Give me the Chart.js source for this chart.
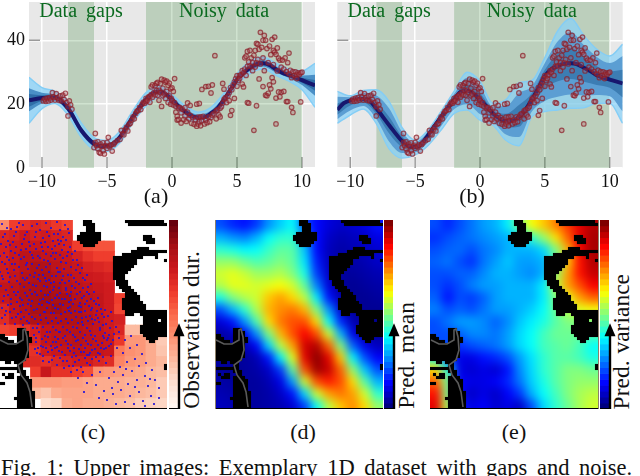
<!DOCTYPE html>
<html>
<head>
<meta charset="utf-8">
<script src="https://cdn.jsdelivr.net/npm/chart.js@4"></script>
<style>
  html, body { margin: 0; padding: 0; background: #fff; }
  body { width: 640px; height: 476px; overflow: hidden; position: relative; font-family: "Liberation Serif", serif; color: #111; }
  canvas { position: absolute; display: block; }
  .panel { position: absolute; top: 220px; width: 168px; height: 189px; overflow: hidden; }
  .cap { position: absolute; font-size: 22px; transform: translateX(-50%); white-space: nowrap; }
  .vlabel { position: absolute; bottom: 67px; font-size: 23.5px; line-height: 23px; writing-mode: vertical-rl; transform: rotate(180deg); white-space: nowrap; word-spacing: 1px; }
  #figcap { position: absolute; left: 1px; top: 455px; font-size: 22.5px; white-space: nowrap; word-spacing: 4px; }
</style>
</head>
<body>
<canvas id="lineA" width="320" height="192" style="left:0;top:0"></canvas>
<canvas id="lineB" width="320" height="192" style="left:320px;top:0"></canvas>
<div class="cap" style="left:156px;top:183px">(a)</div>
<div class="cap" style="left:472px;top:183px">(b)</div>
<div class="cap" style="left:93px;top:419px">(c)</div>
<div class="cap" style="left:303px;top:419px">(d)</div>
<div class="cap" style="left:514px;top:419px">(e)</div>
<div class="vlabel" style="left:180px">Observation dur.</div>
<div class="vlabel" style="left:395px">Pred. mean</div>
<div class="vlabel" style="left:610px">Pred. variance</div>
<div id="figcap">Fig. 1: Upper images: Exemplary 1D dataset with gaps and noise.</div>

<script>
const bandX = [-11,-10,-9,-8,-7,-6,-5,-4,-3,-2,-1,0,1,2,3,4,5,6,7,8,9,10,11];
const meanXA = [-11,-10,-9.5,-9,-8,-7,-6,-5.5,-5,-4.5,-4,-3,-2,-1.5,-1,-0.5,0,0.5,1,1.5,2,2.5,3,3.5,4,4.5,5,5.5,6,6.5,7,7.5,8,8.5,9,10,11];
const meanYA = [21.2,21.9,22,22,18.7,11.9,7.6,6.9,6.9,7.6,9.7,16,21.4,23.3,24,23.2,21.4,19.3,17.7,16.3,15.8,15.9,17.1,18.7,21.4,24.5,27.7,29.8,31.4,32.5,32.8,32.3,30.9,29.8,29.1,27.5,25.9];
const outerUpA = [28.4,25.2,24,21,14.2,9.5,8.6,11.6,18,23.6,25.8,23,19.5,17.5,19,23.5,29.5,33.4,34.8,32.8,31,30.5,32.8];
const outerLoA = [14,18.6,20.2,16.6,9.8,5.8,5.2,7.9,14.2,19.4,22.2,19.8,16,14.2,15.4,19.6,26,29.6,31,29,27.2,24.5,19];
const midUpA = [25,23.6,23,19.8,12.9,8.5,7.8,10.6,17,22.4,25,22.3,18.6,16.7,18,22.4,28.6,32.4,33.8,31.9,30,29,29.2];
const midLoA = [17.8,20.2,21,17.6,10.9,6.7,6,8.8,15,20.4,23,20.5,16.8,14.9,16.2,20.4,26.8,30.4,31.8,29.9,28.2,26,22.6];
const innerUpA = [23.2,22.8,22.6,19.2,12.4,8,7.3,10.1,16.5,21.9,24.5,21.9,18.2,16.3,17.5,21.9,28.2,31.9,33.3,31.4,29.6,28.3,27.6];
const innerLoA = [19.2,21,21.4,18.2,11.4,7.2,6.5,9.3,15.5,20.9,23.5,20.9,17.2,15.3,16.7,20.9,27.2,30.9,32.3,30.4,28.6,26.7,24.2];

const meanXB = [-11,-10.5,-10,-9,-8.5,-8,-7,-6,-5.5,-5,-4.5,-4,-3,-2,-1.5,-1,-0.5,0,0.5,1,1.5,2,2.5,3,3.5,4,4.5,5,5.5,6,6.5,7,7.5,8,8.5,9,10,11];
const meanYB = [18.2,20.3,21.2,21.6,21,18.7,13.4,8.4,6.9,6.6,7.6,10.3,16,21.4,23.8,24.2,23.4,21.4,19.3,17.1,15.6,14.7,14.7,16,18.2,21.4,25,28.8,30.9,32,32.7,32.8,32.5,31.4,30.4,29.1,27.7,26.5];
const outerUpB = [24,22.6,24.3,24.5,20.8,12.6,8.7,11.9,17.7,24,30,27.2,20.3,21.4,26.7,27.4,34.6,43,46.8,41.5,37.2,35.1,38.8];
const outerLoB = [14,16.6,18.5,14,6,3.1,4.1,7.1,11.9,17.1,18.2,15,13.4,8.7,7,16.1,17.7,18.2,18.7,18.9,20.3,20.3,14];
const midUpB = [22.3,22.2,23.5,22.8,18.6,11.3,8.1,11.4,17.2,23.2,28.3,25.5,19.3,19.4,23.5,25.6,32.9,39.7,42.6,38.5,34.8,32.9,35.1];
const midLoB = [15.3,18,19.4,15.4,8.2,4.7,4.9,8.1,13.1,18.4,20,16.9,14.5,10.5,9.7,17.7,21,22.3,23,22.7,22.9,22.5,17.7];
const innerUpB = [20.2,21.7,22.5,20.7,16,9.9,7.3,10.9,16.6,22.3,26.2,23.4,18.2,17,19.7,23.5,30.8,35.9,37.7,35,31.9,30.3,30.8];
const innerLoB = [16.7,19.6,20.5,17,10.8,6.5,5.7,9.2,14.6,19.9,22.1,19.2,15.8,12.6,12.9,19.5,24.9,27.2,27.9,27,26,25.1,22.1];

const gapSpans = [[-8,-6],[-2,10]];
const spanLabels = [["Data gaps",-7],["Noisy data",4]];

const samples = [[-9.9,21],[-9.8,21.6],[-9.7,20.9],[-9.6,21.9],[-9.5,21],[-9.4,22],[-9.3,21.3],[-9.2,23.6],[-9.1,22.2],[-9,21.3],[-8.9,23.3],[-8.8,22],[-8.7,21.2],[-8.6,22.6],[-8.5,21],[-8.4,22.8],[-8.3,21.5],[-8.2,23.4],[-8.1,20.5],[-8,19.2],[-7.9,21],[-7.8,19.8],[-8,16.3],[-7.7,18.4],
[-6,6.4],[-5.9,8],[-5.9,10.8],[-5.8,7],[-5.7,6],[-5.7,8.2],[-5.6,4.9],[-5.5,7.5],[-5.5,4.6],[-5.4,6.8],[-5.3,7.9],[-5.3,5.4],[-5.2,4.4],[-5.1,7],[-5,6.2],[-5,8],[-4.9,9.6],[-4.8,6.7],[-4.7,7.2],[-4.6,5.3],[-4.5,7.4],[-4.4,7.9],
[-4.2,8.6],[-4,9],[-3.9,11.8],[-3.8,10.7],[-3.7,10.4],[-3.6,12],[-3.5,12.8],[-3.4,11.6],[-3.3,13.7],[-3.2,14],[-3.1,15],[-3,16],[-2.9,15.4],[-2.8,17.1],[-2.7,17.8],[-2.6,18],[-2.5,19],[-2.4,18.3],[-2.3,20],[-2.2,20.6],[-2.1,20.3],[-2,21.8],[-2,20.8],[-1.9,21.2],[-1.8,22.3],[-1.7,22.4],[-1.7,20.6],[-1.6,23],[-1.6,25.4],[-1.5,22.2],[-1.5,26],[-1.4,23.6],[-1.3,25.8],[-1.3,22.9],[-1.2,26.5],[-1.2,24.3],[-1.1,26.8],[-1.1,22.8],[-1,21.2],[-1,24.4],[-0.9,26.4],[-0.9,23.6],[-0.8,19.3],[-0.8,27.8],[-0.7,25],[-0.7,22.6],[-0.6,27.5],[-0.6,23.2],[-0.5,26.9],[-0.5,21.8],[-0.4,27.2],[-0.4,24],[-0.3,25.9],[-0.3,20.5],[-0.2,26.6],[-0.2,22.6],[-0.1,24.8],[-0.1,20],[-0.05,21.8],
[0,25.1],[0,21.2],[0.1,24],[0.1,19.7],[0.2,28],[0.2,20.5],[0.3,17.5],[0.3,19.3],[0.4,16.2],[0.4,15],[0.5,18.8],[0.5,15.2],[0.6,19],[0.7,14.1],[0.7,17.3],[0.8,18.4],[0.9,15.2],[1,16.3],[1,18.9],[1.1,14.6],[1.2,20.4],[1.2,17.5],[1.3,15.4],[1.4,19.6],[1.4,16.5],[1.5,14],[1.6,15.8],[1.7,13.7],[1.8,15.2],[1.9,13.1],[1.9,20],[2,15.9],[2,13.8],[2.1,20.2],[2.1,14.5],[2.2,16],[2.2,13.2],[2.3,24.6],[2.3,14.8],[2.4,16.2],[2.5,13.8],[2.6,15],[2.6,25.5],[2.7,14.2],[2.8,25.6],[2.8,16],[2.9,14.5],[3,23.5],[3,15.8],[3.1,26],[3.1,16.6],[3.2,17],[3.3,35.2],[3.4,15.4],[3.4,17.9],[3.5,18.2],[3.6,16.6],[3.7,18.7],[3.7,16],[3.8,19.2],[3.9,26.5],[3.9,20.4],[4,24.7],[4,21.5],[4.1,22],[4.2,20.5],[4.3,22.6],[4.4,23.6],[4.4,21.1],[4.5,25.2],[4.5,16.5],[4.6,24.5],[4.6,18],[4.7,26],[4.8,21.8],[4.8,27],[4.9,28],[5,28.9],[5,25.6],[5.1,27.4],[5.2,29],[5.2,28],[5.3,29.2],[5.4,26.3],[5.4,30.5],[5.5,29.9],[5.5,25.4],[5.6,34.5],[5.6,31],[5.7,35],[5.7,29],[5.8,20.5],[5.8,36.5],[5.8,31.8],[5.9,33.2],[5.9,20.3],[6,36.8],[6,32],[6.1,34.5],[6.2,30.5],[6.2,33],[6.3,11.8],[6.3,35.3],[6.4,36.8],[6.4,31.6],[6.5,39],[6.5,33],[6.5,19.5],[6.6,34],[6.6,38.8],[6.7,37.2],[6.7,27.9],[6.8,42.5],[6.8,32.6],[6.9,37.8],[7,25.5],[7,40],[7,34.5],[7.1,41.5],[7.1,30.5],[7.2,22.8],[7.2,40],[7.3,22.6],[7.3,37.4],[7.4,33],[7.4,23.4],[7.5,38.2],[7.5,26],[7.6,35.5],[7.6,24.8],[7.7,28.3],[7.7,40.3],[7.8,36.8],[7.8,27],[7.8,32.4],[7.9,41],[7.9,36.3],[8,13.8],[8,35.6],[8,21.9],[8.1,37.6],[8.1,30.4],[8.2,23.8],[8.2,34.4],[8.3,33.8],[8.3,22.3],[8.4,31.6],[8.4,23.7],[8.5,33.8],[8.6,24],[8.6,31],[8.7,34.5],[8.8,20.8],[8.8,30.2],[8.9,20.8],[8.9,33],[9,36],[9,29.5],[9.1,30.6],[9.2,19],[9.2,28.3],[9.3,17.4],[9.3,30.2],[9.4,29],[9.5,30.1],[9.6,29.2],[9.6,28],[9.7,29.8],[9.8,29.3],[9.9,20.7],[9.9,29.8],[10,30]];

// observation duration, 16 x 18 blocks, null = never observed
const obsDur = [
[.4,.62,.66,.7,.68,.64,.6,null,null,null,null,null,null,null,null,null],
[.7,.72,.75,.72,.74,.72,.7,null,null,null,null,null,null,null,null,null],
[.72,.75,.76,.76,.75,.74,.72,.62,.58,.56,.56,null,null,null,null,null],
[.72,.76,.8,.8,.78,.78,.76,.72,.66,.62,.62,null,null,null,null,null],
[.74,.76,.8,.84,.84,.8,.78,.76,.72,.7,.68,null,null,null,null,null],
[.74,.78,.82,.84,.85,.82,.8,.78,.75,.74,.72,null,null,null,null,null],
[.78,.8,.84,.85,.86,.85,.82,.8,.78,.76,.74,null,null,null,null,null],
[.76,.8,.84,.86,.88,.86,.86,.82,.8,.78,.74,.62,null,null,null,null],
[.7,.78,.82,.86,.86,.88,.85,.84,.8,.78,.74,.6,null,null,null,null],
[.68,.76,.8,.84,.84,.84,.84,.84,.82,.78,.74,.72,null,null,null,null],
[.6,.62,.66,.72,.78,.8,.82,.82,.8,.78,.74,.7,.25,.25,null,null],
[null,null,.66,.7,.78,.8,.8,.82,.8,.78,.76,.64,.36,.36,.3,.2],
[null,null,.62,.66,.74,.76,.78,.8,.78,.78,.76,.45,.38,.36,.3,.22],
[null,null,.68,.68,.66,.7,.72,.74,.74,.7,.68,.42,.36,.34,.3,.26],
[null,null,null,.62,.76,.66,.66,.62,.58,.38,.36,.34,.32,.3,.26,.24],
[null,null,null,.36,.36,.36,.34,.34,.32,.3,.3,.3,.28,.28,.26,.2],
[null,null,null,.26,.22,.3,.32,.32,.32,.3,.3,.3,.28,.26,.24,.2],
[null,null,null,null,.14,.16,.3,.32,.3,.3,.28,.26,.24,.2,.18,.16]];

// predicted mean, 14 x 16 samples
const predMean = [
[.2,.16,.14,.18,.27,.33,.38,.2,.13,.09,.07,.08,.1,.14],
[.3,.27,.25,.3,.38,.42,.42,.28,.13,.07,.05,.06,.07,.1],
[.42,.4,.37,.38,.43,.47,.46,.32,.13,.06,.04,.05,.06,.08],
[.52,.52,.48,.45,.47,.5,.47,.35,.15,.06,.04,.04,.05,.07],
[.58,.6,.57,.53,.53,.55,.5,.4,.18,.07,.03,.03,.04,.05],
[.55,.6,.6,.58,.6,.62,.58,.47,.25,.09,.03,.02,.03,.04],
[.4,.5,.55,.58,.68,.72,.66,.56,.36,.14,.05,.02,.02,.03],
[.2,.3,.42,.55,.7,.74,.76,.7,.5,.27,.08,.03,.02,.02],
[.09,.14,.27,.45,.66,.76,.8,.8,.66,.38,.16,.05,.02,.02],
[.04,.06,.12,.27,.5,.7,.8,.88,.8,.58,.3,.1,.04,.03],
[.03,.03,.05,.12,.34,.56,.72,.92,.95,.78,.5,.22,.1,.06],
[.03,.03,.03,.05,.14,.37,.6,.9,.99,.9,.68,.37,.2,.12],
[.03,.02,.03,.04,.07,.18,.47,.8,.97,.93,.78,.52,.32,.2],
[.04,.03,.03,.03,.05,.1,.28,.58,.8,.85,.8,.66,.46,.3],
[.05,.04,.03,.03,.04,.07,.14,.34,.58,.72,.76,.72,.58,.42],
[.06,.05,.04,.03,.04,.05,.08,.18,.38,.56,.68,.74,.66,.52]];

// predicted variance, 14 x 16 samples
const predVar = [
[.2,.16,.2,.24,.28,.3,.36,.5,.62,.68,.75,.82,.9,.95],
[.17,.2,.22,.24,.26,.28,.3,.34,.42,.52,.65,.78,.9,.96],
[.2,.22,.23,.2,.24,.26,.3,.3,.3,.34,.5,.7,.88,.96],
[.22,.24,.2,.17,.24,.28,.32,.28,.28,.3,.45,.68,.86,.95],
[.2,.2,.22,.22,.26,.3,.3,.28,.26,.3,.52,.72,.86,.93],
[.2,.17,.2,.25,.28,.28,.3,.3,.3,.36,.56,.72,.8,.88],
[.22,.14,.2,.18,.22,.28,.3,.3,.3,.36,.5,.6,.72,.78],
[.25,.2,.22,.2,.24,.28,.28,.3,.33,.38,.48,.56,.6,.62],
[.2,.24,.28,.28,.26,.22,.26,.32,.36,.4,.46,.5,.5,.5],
[.2,.2,.22,.26,.26,.24,.28,.34,.38,.44,.48,.48,.48,.46],
[.2,.2,.17,.2,.22,.24,.28,.34,.38,.44,.46,.48,.44,.38],
[.4,.2,.1,.1,.14,.16,.2,.28,.35,.42,.46,.46,.44,.4],
[.66,.4,.1,.08,.1,.08,.14,.26,.34,.42,.46,.5,.5,.48],
[.78,.5,.12,.1,.1,.12,.16,.24,.33,.4,.46,.5,.52,.52],
[.86,.5,.12,.07,.1,.07,.12,.18,.3,.38,.44,.5,.54,.56],
[.9,.55,.15,.1,.12,.08,.1,.07,.2,.34,.42,.48,.54,.58]];

// obstacle map, runs of [row, first col, last col] on a 56 x 63 grid
const maskRuns = [
[0,28,30],[0,42,54],[1,28,31],[1,43,55],[2,29,31],[3,29,31],[4,27,33],[5,26,33],[5,48,50],[6,26,33],[6,48,51],[7,27,32],[7,49,51],[8,28,31],
[9,46,49],[10,44,55],[11,41,52],[12,38,47],[12,52,52],[13,38,45],[13,55,55],[14,38,45],[15,38,44],[16,38,43],[17,38,42],[18,38,41],[19,38,41],
[20,39,42],[21,39,42],[22,40,43],[23,41,44],[24,42,45],[25,42,46],[26,41,46],[27,41,47],[28,41,48],[29,41,48],[30,42,55],[31,42,44],[31,47,55],
[32,48,55],[33,48,52],[33,54,55],[34,48,55],[35,47,55],[36,47,55],[37,47,55],[38,48,55],[39,49,52],[40,50,51],[48,55,55],[49,55,55],
[36,6,8],[37,6,9],[38,0,1],[38,6,9],[39,0,2],[39,6,10],[40,0,4],[40,6,10],[41,0,9],[42,0,9],[43,0,9],[44,0,9],[45,0,9],[46,0,8],[47,2,3],[47,5,7],
[48,6,7],[49,0,5],[49,6,7],[50,6,8],[51,1,1],[51,3,4],[51,7,8],[52,2,4],[52,6,9],[53,6,10],[54,0,1],[54,6,10],[55,6,10],[56,6,10],[57,6,11],[58,6,11],
[59,5,11],[60,6,11],[61,6,11],[62,6,11]];

const trailX = [1,9,17,24,24,26,28,29,26,19,22,28,31,33];
const trailY = [120,124,124,120,110,109,117,130,140,145,155,163,172,187];

// blue observation points of panel (c)
const obsDots = [[3,4],[12,9],[20,3],[28,12],[33,6],[41,10],[47,3],[52,8],[58,2],[61,10],[66,5],[70,13],[64,17],[55,14],[44,18],[36,17],[25,19],[15,16],[6,14],
[2,24],[9,21],[17,27],[23,24],[30,22],[37,29],[42,23],[49,27],[54,21],[60,24],[67,20],[71,27],[63,30],[57,33],[47,34],[39,36],[31,32],[20,35],[12,31],[5,33],
[3,42],[10,40],[16,44],[22,39],[28,43],[34,38],[40,45],[45,40],[51,44],[56,39],[62,42],[68,36],[74,40],[79,45],[72,47],[65,49],[58,48],[50,52],[43,50],[36,53],[29,49],[23,53],[15,50],[8,49],[1,52],
[4,59],[11,57],[18,61],[24,58],[30,63],[35,57],[41,61],[46,58],[52,63],[57,56],[63,60],[69,55],[75,58],[81,53],[86,60],[80,64],[73,66],[66,63],[60,68],[54,70],[48,67],[42,71],[37,66],[31,70],[25,67],[19,72],[13,67],[7,70],[2,66],
[5,76],[12,79],[17,75],[23,80],[28,76],[33,81],[38,75],[44,79],[49,75],[53,80],[58,75],[63,79],[68,74],[72,80],[78,74],[83,78],[88,72],[92,79],[86,84],[80,86],[74,84],[69,88],[64,85],[59,89],[54,85],[48,88],[43,85],[38,89],[32,86],[27,90],[21,86],[15,89],[9,85],[3,88],
[6,95],[13,98],[19,94],[25,97],[30,94],[36,99],[41,95],[47,98],[52,93],[57,98],[62,94],[67,99],[72,93],[77,97],[82,92],[87,97],[92,90],[97,95],[102,89],[105,97],[100,102],[94,104],[89,101],[84,105],[79,103],[74,107],[69,103],[64,107],[59,103],[54,107],[49,103],[44,107],[39,104],[34,108],[30,103],[24,105],[16,104],
[35,115],[40,112],[46,116],[51,112],[56,117],[61,112],[66,116],[71,112],[76,117],[81,112],[86,115],[91,111],[96,116],[101,110],[106,113],[111,108],[115,114],[108,120],[103,123],[97,121],[92,125],[87,121],[82,125],[77,121],[72,125],[67,121],[62,125],[57,122],[52,126],[47,122],[42,126],[37,122],
[38,133],[44,136],[49,132],[55,136],[60,131],[66,135],[71,131],[77,136],[82,132],[88,135],[93,130],[99,133],[105,129],[110,126],[114,120],[50,142],[58,145],[64,141],[70,146],[76,142],[82,147],[88,143],[93,139],[100,141],
[8,8],[17,12],[24,5],[38,4],[50,16],[59,20],[69,9],[7,27],[14,38],[27,29],[44,31],[52,36],[64,38],[76,31],[1,36],[33,44],[47,47],[61,52],[77,50],[84,68],[90,86],[97,84],[104,105],[113,101],[117,107],[120,118],[110,115],[67,70],[55,62],[40,55],[26,60],[10,62],[22,92],[45,92],[55,93],[70,91],[83,98],[60,112],[75,128],[90,135],[44,127],[33,74],[48,82],[60,78],[70,82],[80,92],[92,115],[105,118],[101,134],[86,128],[73,137],[56,128],[39,128],
[120,112],[126,120],[132,116],[118,128],[124,133],[131,128],[138,125],[143,134],[136,139],[128,142],[121,147],[112,136],[107,143],[115,152],[124,155],[133,151],[140,146],[147,143],[153,150],[146,156],[138,160],[129,164],[119,162],[110,158],[101,152],[93,155],[97,165],[105,171],[114,174],[122,170],[131,176],[140,172],[149,166],[156,160],[160,168],[152,176],[144,181],[135,184],[126,182],[117,184],[108,180],[100,178],[88,163],[85,172],[79,158],[160,178],[155,184],[146,186],[113,168],[136,167],[151,159],[127,149],
[4,17],[11,25],[18,7],[26,15],[31,26],[37,12],[43,27],[48,12],[53,29],[59,14],[65,25],[69,32],[62,21],[56,26],[46,22],[35,24],[22,30],[14,22],[8,37],[16,33],[25,37],[33,35],[41,38],[49,41],[54,33],[61,35],[67,43],[73,34],[78,40],[72,55],[83,48],[88,55],[92,64],[95,72],[99,78],[89,67],[84,58],[77,62],[70,61],[64,56],[59,52],[53,56],[47,61],[44,55],[38,48],[31,55],[27,45],[20,47],[13,44],[6,44],[3,56],[9,53],[16,56],[21,64],[28,58],[34,65],[39,59],[45,66],[50,60],[55,67],[61,63],[67,68],[72,72],[76,68],[81,72],[85,76],[90,74],[95,81],[100,85],[106,90],[109,96],[112,92],[107,104],[101,108],[96,100],[91,96],[86,91],[81,83],[76,79],[71,76],[66,79],[61,73],[56,78],[51,72],[46,75],[41,80],[36,72],[30,80],[26,73],[21,78],[15,72],[9,75],[4,81],[7,91],[12,84],[18,82],[24,85],[29,84],[35,90],[40,84],[46,92],[50,83],[56,88],[61,84],[66,92],[71,87],[76,91],[82,87],[88,81],[93,88],[98,91],[103,94],[99,98],[93,99],[88,108],[83,102],[78,108],[73,100],[68,110],[62,101],[57,110],[53,101],[48,112],[42,100],[38,108],[33,97],[28,101],[22,99],[17,97],[11,92],[3,98],[6,104],[37,118],[43,119],[49,117],[54,122],[59,119],[64,118],[69,124],[74,115],[79,120],[84,118],[89,124],[94,119],[99,125],[104,116],[109,118],[112,124],[107,128],[102,128],[96,129],[91,133],[85,132],[80,129],[75,133],[69,128],[63,132],[58,127],[53,130],[47,128],[41,134],[36,129],[44,141],[53,140],[61,138],[68,141],[74,146],[80,140],[86,138],[91,145],[97,137],[104,137],[84,152],[78,150],[72,152],[65,148]];

const redStops = ['#fff5f0','#fee0d2','#fcbba1','#fc9272','#fb6a4a','#ef3b2c','#cb181d','#a50f15','#67000d'];
const colorbarLevels = Array.from({length: 32}, (_, i) => i);

const jetColor = (v) => {
  const c = (k) => Math.round(255 * Math.min(1, Math.max(0, 1.5 - Math.abs(4 * v - k))));
  return `rgb(${c(3)},${c(2)},${c(1)})`;
};
const redColor = (v) => {
  const p = v * (redStops.length - 1);
  const i = Math.min(redStops.length - 2, Math.floor(p));
  const hex = (s, n) => parseInt(s.substr(1 + n * 2, 2), 16);
  const mix = (n) => Math.round(hex(redStops[i], n) + (hex(redStops[i + 1], n) - hex(redStops[i], n)) * (p - i));
  return `rgb(${mix(0)},${mix(1)},${mix(2)})`;
};

Chart.defaults.font.family = "'Liberation Serif', serif";
Chart.defaults.animation = false;
Chart.defaults.responsive = false;
Chart.defaults.layout.autoPadding = false;
Chart.defaults.plugins.legend.display = false;
Chart.defaults.plugins.tooltip.enabled = false;
Chart.defaults.events = [];

const plotDecor = {
  id: "plotDecor",
  beforeDraw(chart) {
    const { ctx, chartArea: a } = chart;
    ctx.fillStyle = "#e8e8e8";
    ctx.fillRect(a.left, a.top, a.width, a.height);
  },
  beforeDatasetsDraw(chart) {
    const { ctx, chartArea: a, scales } = chart;
    ctx.strokeStyle = "#9a9a9a";
    ctx.lineWidth = 1.5;
    ctx.beginPath();
    [-10, -5, 0, 5, 10].forEach((v) => {
      const x = scales.x.getPixelForValue(v);
      ctx.moveTo(x, a.bottom);
      ctx.lineTo(x, a.bottom - 11);
    });
    const y = scales.y.getPixelForValue(40);
    ctx.moveTo(a.left, y);
    ctx.lineTo(a.left + 11, y);
    ctx.stroke();
  },
  afterDatasetsDraw(chart) {
    const { ctx, scales } = chart;
    ctx.save();
    ctx.fillStyle = "#0b6b20";
    ctx.font = "20px 'Liberation Serif', serif";
    ctx.wordSpacing = "4px";
    ctx.textAlign = "center";
    ctx.textBaseline = "middle";
    spanLabels.forEach(([text, v]) => {
      ctx.fillText(text, scales.x.getPixelForValue(v), scales.y.getPixelForValue(48.8));
    });
    ctx.restore();
  },
};

const pairUp = (xs, ys) => xs.map((x, i) => ({ x, y: ys[i] }));

function makeLinePlot(id, meanX, meanY, bands, showY, leftW, rightPad) {
  const flat = { type: "line", pointRadius: 0, borderWidth: 0, cubicInterpolationMode: "monotone" };
  const bandSets = [];
  // order numbers keep the painter's order, points on top
  bands.forEach((b, i) => {
    bandSets.push({ ...flat, order: 4 + i * 2, data: pairUp(bandX, b.up), fill: { target: "+1" }, backgroundColor: b.color, borderColor: b.edge, borderWidth: b.edge ? 1.5 : 0 });
    bandSets.push({ ...flat, order: 5 + i * 2, data: pairUp(bandX, b.lo), fill: false, borderColor: b.edge, borderWidth: b.edge ? 1.5 : 0 });
  });
  new Chart(document.getElementById(id), {
    type: "line",
    data: {
      datasets: [
        { type: "scatter", order: 1, data: samples.map(([x, y]) => ({ x, y })), pointRadius: 2.3, pointBorderWidth: 1.2, pointBorderColor: "rgba(140,30,40,0.72)", pointBackgroundColor: "rgba(190,90,100,0.3)" },
        { ...flat, order: 2, data: pairUp(meanX, meanY), borderColor: "#17176e", borderWidth: 4 },
        ...bandSets,
        ...gapSpans.map(([a, b]) => ({ ...flat, order: 20, cubicInterpolationMode: "default", data: [{ x: a, y: 52 }, { x: b, y: 52 }], fill: "origin", backgroundColor: "rgba(0,100,0,0.19)" })),
      ],
    },
    options: {
      layout: { padding: { top: 2, right: rightPad, left: 0, bottom: 0 } },
      scales: {
        x: {
          type: "linear", min: -11, max: 11,
          grid: { color: "#fff", lineWidth: 1.5, drawTicks: false },
          border: { display: false },
          afterFit: (s) => { s.height = 24; s.paddingLeft = 0; s.paddingRight = 0; },
          ticks: { stepSize: 5, includeBounds: false, autoSkip: false, maxRotation: 0, padding: 3, color: "#111", font: { size: 18 }, callback: (v) => String(v).replace("-", "\u2212") },
        },
        y: {
          min: 0, max: 52,
          grid: { color: "#fff", lineWidth: 1.5, drawTicks: false },
          border: { display: false },
          afterFit: (s) => { s.width = leftW; s.paddingTop = 0; s.paddingBottom = 0; },
          ticks: { display: showY, stepSize: 20, includeBounds: false, padding: 4, color: "#111", font: { size: 18 } },
        },
      },
    },
    plugins: [plotDecor],
  });
}

makeLinePlot("lineA", meanXA, meanYA, [
  { up: innerUpA, lo: innerLoA, color: "#2f6ea8" },
  { up: midUpA, lo: midLoA, color: "#4a8fc6" },
  { up: outerUpA, lo: outerLoA, color: "rgba(135,210,250,0.75)", edge: "#84cdf5" },
], true, 29, 5);
makeLinePlot("lineB", meanXB, meanYB, [
  { up: innerUpB, lo: innerLoB, color: "#3c7db3" },
  { up: midUpB, lo: midLoB, color: "#5b9ed3" },
  { up: outerUpB, lo: outerLoB, color: "rgba(135,210,250,0.7)", edge: "#84cdf5" },
], false, 17.3, 17.3);

function addCanvas(parent, w, h, left, top) {
  const c = document.createElement("canvas");
  c.width = w;
  c.height = h;
  c.style.left = left + "px";
  c.style.top = top + "px";
  parent.appendChild(c);
  return c;
}

const hiddenAxes = (xMin, xMax, yMin, yMax) => ({
  x: { type: "linear", display: false, min: xMin, max: xMax },
  y: { type: "linear", display: false, reverse: true, min: yMin, max: yMax },
});

function makeHeat(panel, grid, colorOf, blur) {
  const rows = grid.length, cols = grid[0].length;
  const size = 168 / cols;
  const extra = blur ? 2 : 0;
  const pad = extra * size;
  const cells = [], colors = [];
  for (let r = -extra; r < rows + extra; r++) {
    for (let c = -extra; c < cols + extra; c++) {
      const v = grid[Math.min(rows - 1, Math.max(0, r))][Math.min(cols - 1, Math.max(0, c))];
      if (v === null) continue;
      cells.push({ x: (c + 0.5) * size, y: (r + 0.5) * size });
      colors.push(colorOf(v));
    }
  }
  const canvas = addCanvas(panel, 168 + pad * 2, 189 + pad * 2, -pad, -pad);
  if (blur) canvas.style.filter = `blur(${blur}px)`;
  new Chart(canvas, {
    type: "scatter",
    data: { datasets: [{ data: cells, pointStyle: "rect", pointRadius: (size / 2 + 0.4) * Math.SQRT2, pointBorderWidth: 0, pointBackgroundColor: colors }] },
    options: { scales: hiddenAxes(-pad, 168 + pad, -pad, 189 + pad) },
  });
}

function makeOverlay(panel, dots) {
  const blocks = [];
  maskRuns.forEach(([row, from, to]) => {
    for (let c = from; c <= to; c++) blocks.push({ x: (c + 0.5) * 3, y: (row + 0.5) * 3 });
  });
  const sets = [
    { type: "line", order: 1, data: pairUp(trailX, trailY), borderColor: "#5a5a5a", borderWidth: 1.6, pointRadius: 0 },
    { order: 2, data: blocks, pointStyle: "rect", pointRadius: 2.2, pointBorderWidth: 0, pointBackgroundColor: "#000" },
  ];
  if (dots) sets.push({ order: 3, data: dots.map(([x, y]) => ({ x, y })), pointStyle: "rect", pointRadius: 1.3, pointBorderWidth: 0, pointBackgroundColor: "rgba(35,20,215,0.92)" });
  new Chart(addCanvas(panel, 168, 189, 0, 0), {
    type: "scatter",
    data: { datasets: sets },
    options: { scales: hiddenAxes(0, 168, 0, 189) },
  });
}

function makeColorbar(left, colorOf) {
  const arrow = {
    id: "arrow",
    afterDraw(chart) {
      const { ctx, chartArea: a, scales } = chart;
      const x = a.right + 1;
      const tip = scales.y.getPixelForValue(14);
      ctx.fillStyle = "#000";
      ctx.fillRect(x - 1.2, tip + 8, 2.4, a.bottom - tip - 8);
      ctx.beginPath();
      ctx.moveTo(x, tip);
      ctx.lineTo(x + 5.5, tip + 13);
      ctx.lineTo(x - 5.5, tip + 13);
      ctx.closePath();
      ctx.fill();
      ctx.fillRect(a.left, a.bottom - 1, a.width + 2, 1);
    },
  };
  new Chart(addCanvas(document.body, 22, 189, left, 220), {
    type: "bar",
    data: {
      labels: colorbarLevels,
      datasets: [{ data: colorbarLevels.map(() => 1), backgroundColor: colorbarLevels.map((l) => colorOf(l / (colorbarLevels.length - 1))), barPercentage: 1, categoryPercentage: 1, borderWidth: 0 }],
    },
    options: {
      indexAxis: "y",
      layout: { padding: { right: 13 } },
      scales: { x: { display: false, min: 0, max: 1 }, y: { display: false, reverse: true } },
    },
    plugins: [arrow],
  });
}

function makePanel(left, grid, colorOf, blur, dots, frame) {
  const panel = document.createElement("div");
  panel.className = "panel";
  panel.style.left = left + "px";
  document.body.appendChild(panel);
  makeHeat(panel, grid, colorOf, blur);
  makeOverlay(panel, dots);
  const base = document.createElement("div");
  base.style.cssText = `position:absolute;left:${left}px;top:408px;width:168px;height:1px;background:#000`;
  document.body.appendChild(base);
  if (frame) {
    const side = document.createElement("div");
    side.style.cssText = `position:absolute;left:${frame}px;top:220px;width:1px;height:189px;background:#8c7f6a`;
    document.body.appendChild(side);
  }
}

makePanel(-1, obsDur, redColor, 0, obsDots, 0);
makePanel(215, predMean, jetColor, 5, null, 215);
makePanel(430, predVar, jetColor, 5, null, 598);
makeColorbar(169, redColor);
makeColorbar(384, jetColor);
makeColorbar(600, jetColor);
</script>
</body>
</html>
